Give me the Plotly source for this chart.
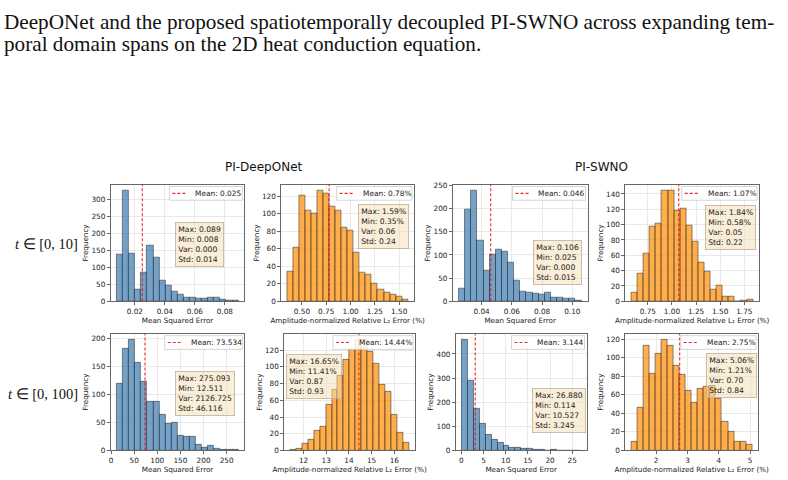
import numpy as np
import plotly.graph_objects as go

W, H = 788, 480

# ---------------- data ----------------
header_lines = [
    "DeepONet and the proposed spatiotemporally decoupled PI-SWNO across expanding tem-",
    "poral domain spans on the 2D heat conduction equation.",
]
col_titles = ["PI-DeepONet", "PI-SWNO"]
row_labels = ["<i>t</i> ∈ [0, 10]", "<i>t</i> ∈ [0, 100]"]
mse_label = "Mean Squared Error"
rel_label = "Amplitude-normalized Relative L₂ Error (%)"

# histogram counts (20 bins between min and max)
don10_mse_counts = [138, 329, 141, 36, 86, 165, 129, 61, 47, 28, 19, 12, 10, 8, 8, 10, 10, 4, 2, 2]
don10_rel_counts = [34, 61, 121, 104, 100, 127, 123, 108, 104, 84, 81, 56, 33, 31, 20, 13, 10, 8, 6, 2]
swno10_mse_counts = [27, 198, 240, 131, 67, 100, 111, 108, 83, 44, 22, 20, 16, 15, 18, 8, 9, 5, 5, 2]
swno10_rel_counts = [11, 36, 62, 98, 101, 145, 144, 118, 121, 99, 78, 51, 39, 15, 20, 6, 6, 0, 1, 2]
don100_mse_counts = [118, 181, 198, 157, 122, 86, 86, 64, 48, 50, 26, 25, 25, 10, 5, 9, 3, 1, 1, 1]
don100_rel_counts = [1, 2, 8, 13, 24, 29, 55, 73, 90, 108, 120, 133, 132, 118, 104, 79, 70, 43, 21, 9]
swno100_mse_counts = [461, 291, 172, 112, 66, 46, 31, 20, 13, 13, 8, 8, 4, 3, 1, 4, 1, 0, 0, 1]
swno100_rel_counts = [9, 46, 113, 83, 104, 120, 113, 92, 82, 64, 52, 67, 69, 70, 56, 31, 20, 9, 9, 6]

# statistics: [max, min, var, std, mean]
don10_mse_stats = [0.089, 0.008, 0.000, 0.014, 0.025]
don10_rel_stats = [1.59, 0.35, 0.06, 0.24, 0.78]
swno10_mse_stats = [0.106, 0.025, 0.000, 0.015, 0.046]
swno10_rel_stats = [1.84, 0.58, 0.05, 0.22, 1.07]
don100_mse_stats = [275.093, 12.511, 2126.725, 46.116, 73.534]
don100_rel_stats = [16.65, 11.41, 0.87, 0.93, 14.44]
swno100_mse_stats = [26.880, 0.114, 10.527, 3.245, 3.144]
swno100_rel_stats = [5.06, 1.21, 0.70, 0.84, 2.75]

# ---------------- styling / layout ----------------
BLUE = "rgba(70,130,180,0.75)"
ORANGE = "rgba(255,140,0,0.70)"
EDGE = "rgba(30,30,30,0.7)"
FONT = "DejaVu Sans"

panels = [
    dict(c=don10_mse_counts, s=don10_mse_stats, kind="mse", box=(109, 243, 184, 303), dx=0.02, dy=50, fmt=".2f", sb=(173, 222)),
    dict(c=don10_rel_counts, s=don10_rel_stats, kind="rel", box=(280, 413, 184, 303), dx=0.25, dy=20, fmt=".2f", sb=(357, 204)),
    dict(c=swno10_mse_counts, s=swno10_mse_stats, kind="mse", box=(452, 587, 184, 303), dx=0.02, dy=50, fmt=".2f", sb=(532, 241)),
    dict(c=swno10_rel_counts, s=swno10_rel_stats, kind="rel", box=(625, 759, 184, 303), dx=0.25, dy=20, fmt=".2f", sb=(705, 205)),
    dict(c=don100_mse_counts, s=don100_mse_stats, kind="mse", box=(109, 243, 336, 455), dx=50, dy=50, fmt="d", sb=(173, 374)),
    dict(c=don100_rel_counts, s=don100_rel_stats, kind="rel", box=(283, 414, 336, 455), dx=1, dy=20, fmt="d", sb=(285, 357)),
    dict(c=swno100_mse_counts, s=swno100_mse_stats, kind="mse", box=(455, 586, 336, 455), dx=5, dy=100, fmt="d", sb=(531, 391)),
    dict(c=swno100_rel_counts, s=swno100_rel_stats, kind="rel", box=(625, 758, 336, 455), dx=1, dy=20, fmt="d", sb=(706, 356)),
]

# DejaVu Sans advance widths (em) for legend text sizing
CW = {"M": 0.863, "e": 0.615, "a": 0.613, "n": 0.634, ":": 0.337, " ": 0.318,
      ".": 0.318, "%": 0.950}


def text_w(s, size):
    return sum(CW.get(ch, 0.636) for ch in s) * size


fig = go.Figure()
layout = dict(
    width=W, height=H, margin=dict(l=0, r=0, t=0, b=0),
    paper_bgcolor="white", plot_bgcolor="white",
    showlegend=False, font=dict(family=FONT, size=7, color="#222"),
    bargap=0,
)
shapes, annotations = [], []

LEG_FS = 7.4
ST_FS = 7.6
TICK_FS = 7.3
TITLE_FS = 7.2

for i, p in enumerate(panels):
    sfx = "" if i == 0 else str(i + 1)
    mx, mn, var, std, mean = p["s"]
    counts = np.array(p["c"], dtype=float)
    edges = np.linspace(mn, mx, len(counts) + 1)
    centers = (edges[:-1] + edges[1:]) / 2
    width = edges[1] - edges[0]
    color = BLUE if p["kind"] == "mse" else ORANGE
    fig.add_trace(go.Bar(
        x=centers, y=counts, width=width,
        marker=dict(color=color, line=dict(color=EDGE, width=0.7)),
        xaxis="x" + sfx, yaxis="y" + sfx, hoverinfo="skip",
    ))
    x0, x1, y0, y1 = p["box"]
    span = mx - mn
    axis_common = dict(
        showline=True, mirror=True, linecolor="#666", linewidth=0.9,
        ticks="outside", ticklen=3, tickwidth=0.8, tickcolor="#666",
        tickfont=dict(family=FONT, size=TICK_FS, color="#222"),
        showgrid=True, gridcolor="#e9e9e9", gridwidth=0.8, zeroline=False,
    )
    layout["xaxis" + sfx] = dict(
        axis_common, domain=[x0 / W, x1 / W], anchor="y" + sfx,
        range=[mn - 0.05 * span, mx + 0.05 * span],
        dtick=p["dx"], tick0=0, tickformat=p["fmt"],
        title=dict(text=mse_label if p["kind"] == "mse" else rel_label,
                   font=dict(family=FONT, size=TITLE_FS, color="#222"), standoff=1),
    )
    layout["yaxis" + sfx] = dict(
        axis_common, domain=[1 - y1 / H, 1 - y0 / H], anchor="x" + sfx,
        range=[0, counts.max() * 1.05], dtick=p["dy"], tick0=0,
        title=dict(text="Frequency", font=dict(family=FONT, size=TITLE_FS, color="#222"), standoff=1),
    )
    # mean line
    shapes.append(dict(type="line", xref="x" + sfx, yref="y" + sfx + " domain",
                       x0=mean, x1=mean, y0=0, y1=1,
                       line=dict(color="rgba(230,20,20,0.9)", width=1.1, dash="3px,2px")))
    # legend box
    if p["kind"] == "mse":
        mean_txt = f"Mean: {mean:.3f}"
        st = [f"Max: {mx:.3f}", f"Min: {mn:.3f}", f"Var: {var:.3f}", f"Std: {std:.3f}"]
    else:
        mean_txt = f"Mean: {mean:.2f}%"
        st = [f"Max: {mx:.2f}%", f"Min: {mn:.2f}%", f"Var: {var:.2f}", f"Std: {std:.2f}"]
    pad, handle, gap = 3.0, 15.0, 6.0
    lw = pad + handle + gap + text_w(mean_txt, LEG_FS) + pad
    lr, lt = x1 - 2, y0 + 2
    ll, lb = lr - lw, lt + 14
    shapes.append(dict(type="rect", xref="paper", yref="paper",
                       x0=ll / W, x1=lr / W, y0=1 - lb / H, y1=1 - lt / H,
                       fillcolor="rgba(255,255,255,0.85)",
                       line=dict(color="#cccccc", width=0.8), layer="above"))
    ym = (lt + lb) / 2
    shapes.append(dict(type="line", xref="paper", yref="paper",
                       x0=(ll + pad) / W, x1=(ll + pad + handle) / W,
                       y0=1 - ym / H, y1=1 - ym / H,
                       line=dict(color="rgba(230,20,20,0.9)", width=1.1, dash="3px,2px"),
                       layer="above"))
    annotations.append(dict(xref="paper", yref="paper", x=(ll + pad + handle + gap) / W,
                            y=1 - ym / H, xanchor="left", yanchor="middle",
                            text=mean_txt, showarrow=False,
                            font=dict(family=FONT, size=LEG_FS, color="#222")))
    # stats box
    sl, stp = p["sb"]
    annotations.append(dict(xref="paper", yref="paper", x=sl / W, y=1 - stp / H,
                            xanchor="left", yanchor="top", align="left",
                            text="<br>".join(st), showarrow=False,
                            bgcolor="rgba(245,222,179,0.5)", bordercolor="#bdb19a",
                            borderwidth=0.8, borderpad=2.5,
                            font=dict(family=FONT, size=ST_FS, color="#222")))

# column titles
for title, cx in zip(col_titles, [263, 601]):
    annotations.append(dict(xref="paper", yref="paper", x=cx / W, y=1 - 166 / H,
                            xanchor="center", yanchor="middle", text=title, showarrow=False,
                            font=dict(family=FONT, size=12, color="#111")))
# row labels
for lab, cy in zip(row_labels, [245, 397]):
    annotations.append(dict(xref="paper", yref="paper", x=78 / W, y=1 - cy / H,
                            xanchor="right", yanchor="middle", text=lab, showarrow=False,
                            font=dict(family="Liberation Serif", size=14.5, color="#111")))
# header text
for line, cy in zip(header_lines, [18, 41]):
    annotations.append(dict(xref="paper", yref="paper", x=0, y=1 - cy / H,
                            xanchor="left", yanchor="middle", text=line, showarrow=False,
                            font=dict(family="Liberation Serif", size=21.2, color="#111")))

layout["shapes"] = shapes
layout["annotations"] = annotations
fig.update_layout(**layout)
fig.write_html("out.html")
